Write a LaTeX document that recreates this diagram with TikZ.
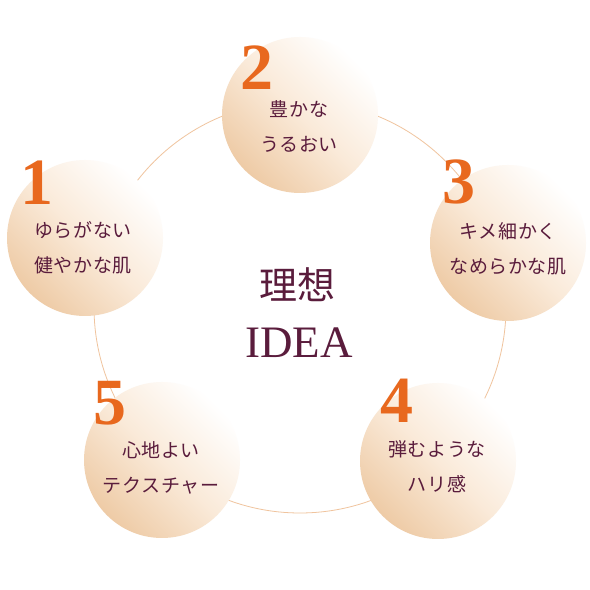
\documentclass[tikz,border=0pt]{standalone}
\usepackage{fontspec}
\setmainfont{Liberation Serif}
\newfontfamily\jpfont[LetterSpace=3]{Noto Sans CJK JP}
\newfontfamily\jpwide{Noto Sans CJK JP}
\definecolor{ringline}{RGB}{240,196,158}
\definecolor{tan}{RGB}{238,203,166}
\definecolor{tanmid}{RGB}{250,234,217}
\definecolor{numorange}{RGB}{232,104,30}
\definecolor{maroon}{RGB}{90,28,60}
\tikzset{
  ring/.style={circle, draw=ringline, line width=0.8pt, minimum size=412pt, inner sep=0pt},
  bubble/.style={circle, minimum size=156pt, inner sep=0pt,
     top color=tan, bottom color=white, middle color=tanmid, shading angle=135},
  num/.style={anchor=base, inner sep=0pt, text=numorange, font=\fontsize{66}{66}\selectfont\bfseries},
  lbl/.style={align=center, inner sep=0pt, text=maroon, font=\jpfont\fontsize{19}{35}\selectfont},
}
\begin{document}
\begin{tikzpicture}[x=1pt,y=1pt]
\useasboundingbox[fill=white] (0,0) rectangle (590,590);
\node[ring] (ring) at (300,283) {};
\node[bubble] (b1) at (85,352) {};
\node[bubble] (b2) at (300,475) {};
\node[bubble] (b3) at (508,347) {};
\node[bubble] (b4) at (438,129) {};
\node[bubble] (b5) at (162,130) {};
% numbers
\node[num] (n1) at (37,385) {1};
\node[num] (n2) at (257,500) {2};
\node[num] (n3) at (459,386) {3};
\node[num] (n4) at (397,167) {4};
\node[num] (n5) at (110,165) {5};
% labels
\node[lbl] (t1) at (83,342) {ゆらがない\\健やかな肌};
\node[lbl] (t2) at (299,464) {豊かな\\うるおい};
\node[lbl] (t3) at (508,341) {キメ細かく\\なめらかな肌};
\node[lbl] (t4) at (437,123) {弾むような\\ハリ感};
\node[lbl] (t5) at (161,122) {心地よい\\テクスチャー};
% center
\node[inner sep=0pt, text=maroon, font=\jpwide\fontsize{38}{38}\selectfont] (c1) at (297,305) {理想};
\node[anchor=base, inner sep=0pt, text=maroon, font=\fontsize{45}{45}\selectfont] (c2) at (299,232) {IDEA};
\end{tikzpicture}
\end{document}
